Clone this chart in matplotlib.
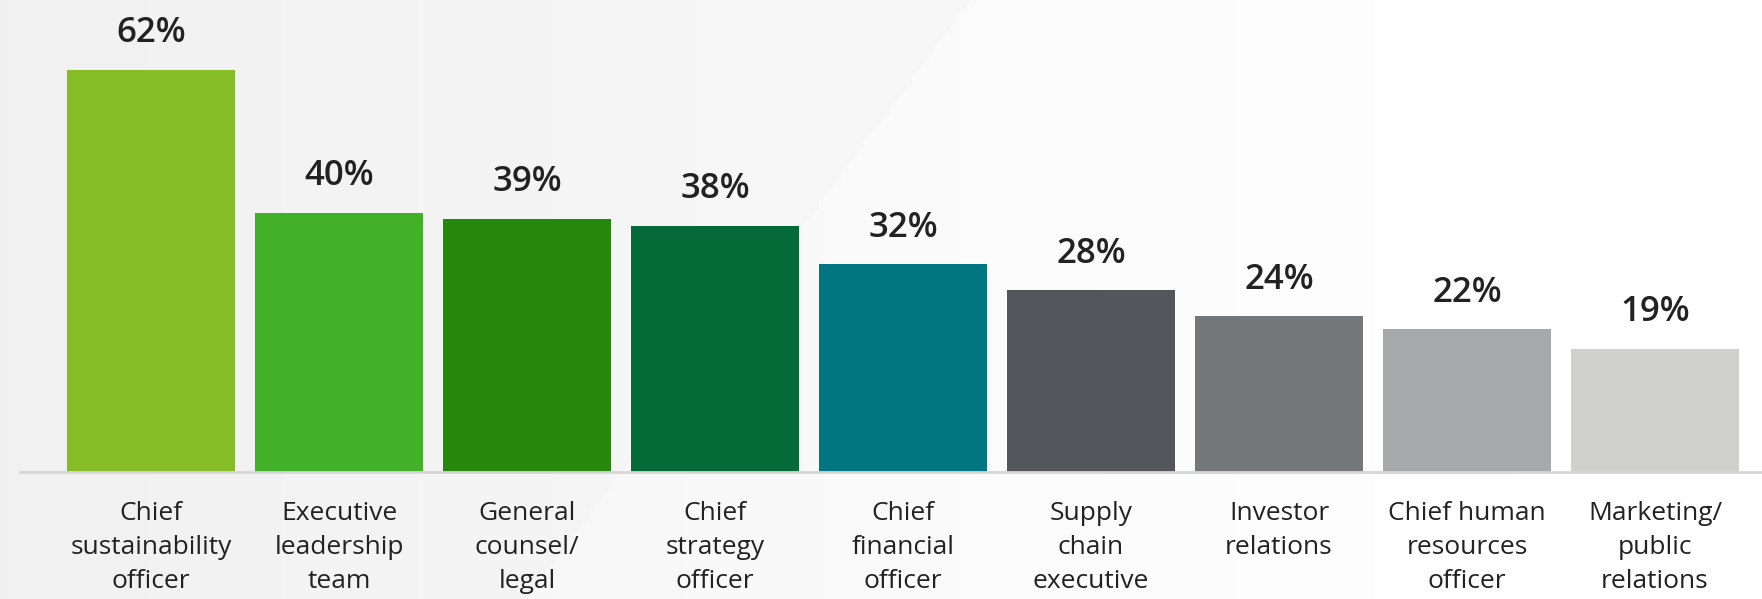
import numpy as np
import matplotlib.pyplot as plt

categories = ["Chief\nsustainability\nofficer", "Executive\nleadership\nteam",
              "General\ncounsel/\nlegal", "Chief\nstrategy\nofficer",
              "Chief\nfinancial\nofficer", "Supply\nchain\nexecutive",
              "Investor\nrelations", "Chief human\nresources\nofficer",
              "Marketing/\npublic\nrelations"]
values = [62, 40, 39, 38, 32, 28, 24, 22, 19]
colors = ["#86BC25", "#43B02A", "#26890D", "#046A38", "#007680",
          "#53565A", "#75787B", "#A7A8AA", "#D0D0CE"]

W, H = 1762, 599
fig = plt.figure(figsize=(W / 100, H / 100), dpi=100)

# background gradient
bg = fig.add_axes([0, 0, 1, 1])
yy, xx = np.mgrid[0:1:120j, 0:1:400j]
grad = 0.945 + 0.05 * xx
diag = (xx - 0.55 + 0.25 * (1 - yy)) > 0
grad = np.where(diag, grad + 0.012, grad)
grad = np.clip(grad, 0, 1)
bg.imshow(np.dstack([grad] * 3), aspect="auto", extent=[0, 1, 0, 1], origin="lower")
bg.axis("off")

# main axes: x from 20px to right edge, baseline at 127px from bottom
left, bottom = 20 / W, 127 / H
ax = fig.add_axes([left, bottom, 1 - left, (581 - 127) / H])
ax.patch.set_alpha(0)
x = np.arange(len(values))
ax.bar(x, values, width=0.894, color=colors)
ax.set_xlim(-0.697, 8.569)
ax.set_ylim(0, 70)
for s in ["top", "right", "left"]:
    ax.spines[s].set_visible(False)
ax.spines["bottom"].set_color("#D6D6D6")
ax.spines["bottom"].set_linewidth(2)
ax.set_yticks([])
ax.set_xticks([])

for i, v in enumerate(values):
    ax.annotate(f"{v}%", (i, v), xytext=(0, 20), textcoords="offset points",
                ha="center", va="baseline", fontsize=25, fontweight="semibold",
                family="Open Sans", color="#222222")
    ax.annotate(categories[i], (i, 0), xytext=(0, -21), textcoords="offset points",
                ha="center", va="top", multialignment="center", fontsize=19,
                family="Open Sans", color="#222222", linespacing=1.48)

fig.savefig("out.png", dpi=100)
